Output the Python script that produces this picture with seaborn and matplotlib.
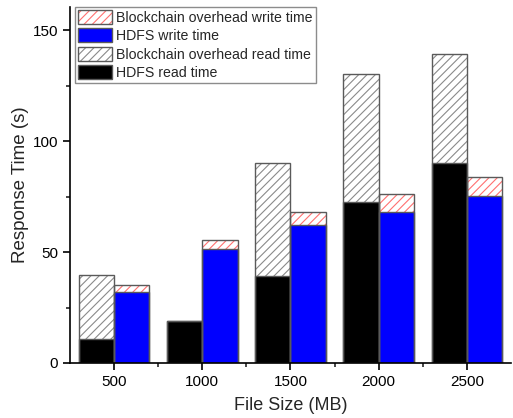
import matplotlib
matplotlib.use("Agg")
import matplotlib.pyplot as plt
import seaborn as sns
import pandas as pd
from matplotlib.patches import Patch
from matplotlib.ticker import MultipleLocator, FixedLocator

# ---- data ----
file_sizes = ["500", "1000", "1500", "2000", "2500"]
hdfs_read = [10.9, 18.8, 39.2, 72.7, 90.4]
overhead_read = [28.7, 0.0, 51.2, 57.8, 49.1]
hdfs_write = [32.0, 51.4, 62.2, 68.0, 75.1]
overhead_write = [3.0, 3.9, 6.0, 8.1, 9.0]

rows = []
for i, s in enumerate(file_sizes):
    rows.append(dict(size=s, kind="read", base=hdfs_read[i], total=hdfs_read[i] + overhead_read[i]))
    rows.append(dict(size=s, kind="write", base=hdfs_write[i], total=hdfs_write[i] + overhead_write[i]))
df = pd.DataFrame(rows)

sns.set_style("ticks")
plt.rcParams["font.family"] = ["Liberation Sans", "DejaVu Sans"]
plt.rcParams["hatch.linewidth"] = 0.8

fig = plt.figure(figsize=(5.13, 4.18), dpi=100)
ax = fig.add_axes([0.1365, 0.1316, 0.8595, 0.8514])

hatch_colors = {"read": "#8a8a8a", "write": "#ff7070"}
edge_gray = "#5a5a5a"
HATCH = "////"

# pass 1: hatched totals (hatch color only)
n0 = len(ax.patches)
sns.barplot(data=df, x="size", y="total", hue="kind", hue_order=["read", "write"],
            order=file_sizes, palette=["white", "white"], width=0.8, dodge=True,
            legend=False, errorbar=None, ax=ax, linewidth=0)
hatched = ax.patches[n0:]
for p in hatched:
    cx = p.get_x() + p.get_width() / 2
    kind = "read" if (cx - round(cx)) < 0 else "write"
    p.set_hatch(HATCH)
    p.set_edgecolor(hatch_colors[kind])
    p.set_linewidth(0)

# pass 2: solid HDFS bars
sns.barplot(data=df, x="size", y="base", hue="kind", hue_order=["read", "write"],
            order=file_sizes, palette=["black", "#0000ff"], width=0.8, dodge=True,
            legend=False, errorbar=None, ax=ax, edgecolor=edge_gray, linewidth=1.0,
            saturation=1)

# pass 3: outlines of totals
sns.barplot(data=df, x="size", y="total", hue="kind", hue_order=["read", "write"],
            order=file_sizes, width=0.8, dodge=True, fill=False,
            legend=False, errorbar=None, ax=ax, edgecolor=edge_gray, linewidth=1.0)
for p in ax.patches:
    if not p.get_fill():
        p.set_edgecolor(edge_gray)

ax.set_xlim(-0.5, 4.5)
ax.set_ylim(0, 160.5)
ax.yaxis.set_major_locator(MultipleLocator(50))
ax.yaxis.set_minor_locator(MultipleLocator(25))
ax.xaxis.set_minor_locator(FixedLocator([0.5, 1.5, 2.5, 3.5]))
ax.tick_params(axis="both", which="major", direction="out", length=5, width=1.2,
               labelsize=11, colors="black")
ax.tick_params(axis="both", which="minor", direction="out", length=3, width=1.2)
for side in ["top", "right"]:
    ax.spines[side].set_visible(False)
for side in ["left", "bottom"]:
    ax.spines[side].set_linewidth(1.2)
    ax.spines[side].set_color("black")

ax.set_xlabel("File Size (MB)", fontsize=13, labelpad=6)
ax.set_ylabel("Response Time (s)", fontsize=13.5, labelpad=3)

# legend
def hatched_handle(color):
    h1 = Patch(facecolor="white", edgecolor=color, hatch=HATCH, linewidth=0)
    h2 = Patch(facecolor="none", edgecolor=edge_gray, linewidth=1.0)
    return (h1, h2)

handles = [hatched_handle(hatch_colors["write"]),
           Patch(facecolor="#0000ff", edgecolor=edge_gray, linewidth=1.0),
           hatched_handle(hatch_colors["read"]),
           Patch(facecolor="black", edgecolor=edge_gray, linewidth=1.0)]
labels = ["Blockchain overhead write time", "HDFS write time",
          "Blockchain overhead read time", "HDFS read time"]
leg = ax.legend(handles, labels, loc="upper left", bbox_to_anchor=(0.012, 1.0),
                fontsize=10.2, frameon=True, fancybox=False, framealpha=1,
                edgecolor="#8c8c8c", borderpad=0.2, labelspacing=0.25,
                handlelength=2.4, handleheight=1.15, handletextpad=0.3,
                borderaxespad=0.0)
leg.get_frame().set_linewidth(1.0)

fig.savefig("out.png", dpi=100)
